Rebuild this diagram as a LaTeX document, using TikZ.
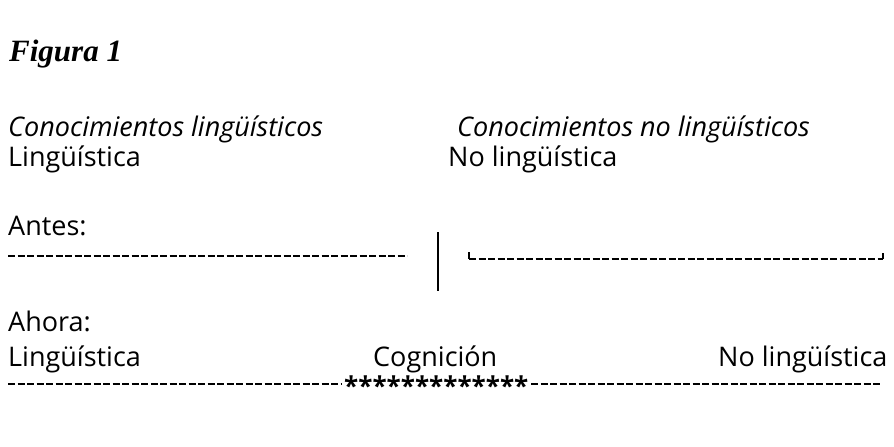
\documentclass[tikz,border=0pt]{standalone}
\usepackage{fontspec}
\setmainfont{Open Sans}
\newfontfamily\figfont{Liberation Serif}
\tikzset{
  lbl/.style={anchor=base west, inner sep=0pt, font=\fontsize{27}{30}\selectfont},
  ilbl/.style={lbl, font=\fontsize{27}{30}\selectfont\itshape},
  dline/.style={line width=2.2pt, dash pattern=on 7pt off 2.5pt},
  solid line/.style={line width=2.2pt}
}
\begin{document}
\begin{tikzpicture}[x=1pt,y=-1pt]
\useasboundingbox (0,0) rectangle (894,447);
\node[anchor=base west, inner sep=0pt, font=\fontsize{31}{34}\selectfont\figfont\bfseries\itshape] (fig) at (9,61) {Figura 1};
\node[ilbl] (cl) at (8,136) {Conocimientos lingüísticos};
\node[ilbl] (cnl) at (457,136) {Conocimientos no lingüísticos};
\node[lbl] (l1) at (8,166) {Lingüística};
\node[lbl] (nl1) at (448,166) {No lingüística};
\node[lbl] (antes) at (8,235) {Antes:};
\coordinate (a1) at (8,256);
\coordinate (a2) at (407,256);
\draw[dline] (a1) -- (a2);
\coordinate (v1) at (438,232);
\coordinate (v2) at (438,291);
\draw[solid line] (v1) -- (v2);
\coordinate (b1) at (469,259);
\coordinate (b2) at (883,259);
\draw[solid line] ([yshift=7pt]b1) -- (b1);
\draw[dline] (b1) -- (b2);
\draw[solid line] (b2) -- ([yshift=6pt]b2);
\node[lbl] (ahora) at (8,331) {Ahora:};
\node[lbl] (l2) at (8,366) {Lingüística};
\node[lbl] (cog) at (373,366) {Cognición};
\node[lbl] (nl2) at (718,366) {No lingüística};
\coordinate (c1) at (8,384);
\coordinate (c2) at (342,384);
\draw[dline] (c1) -- (c2);
\node[anchor=base west, inner sep=0pt, font=\fontsize{26}{28}\selectfont\bfseries] (stars) at (344,395) {*************};
\coordinate (d1) at (531,384);
\coordinate (d2) at (881,384);
\draw[dline] (d1) -- (d2);
\end{tikzpicture}
\end{document}
